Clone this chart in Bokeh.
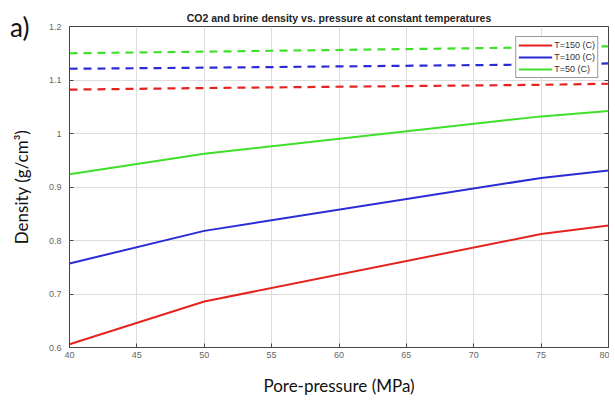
from bokeh.plotting import figure
from bokeh.models import Range1d, Legend, LegendItem, FixedTicker, LinearAxis
from bokeh.embed import file_html
from bokeh.resources import INLINE

# Data
pressure = [40, 50, 75, 80]
co2_150 = [0.606, 0.686, 0.812, 0.828]
co2_100 = [0.757, 0.818, 0.917, 0.931]
co2_50 = [0.924, 0.962, 1.032, 1.042]
brine_150 = [1.082, 1.085, 1.091, 1.093]
brine_100 = [1.121, 1.123, 1.129, 1.131]
brine_50 = [1.150, 1.153, 1.161, 1.163]
x_ticks = [40, 45, 50, 55, 60, 65, 70, 75, 80]
y_ticks = [0.6, 0.7, 0.8, 0.9, 1.0, 1.1, 1.2]
labels = ["T=150 (C)", "T=100 (C)", "T=50 (C)"]
panel_tag = "a)"

RED = "#e52421"
BLUE = "#2b2bd6"
GREEN = "#3fe02a"

p = figure(width=609, height=398, output_backend="svg", toolbar_location=None,
           x_range=Range1d(40, 80), y_range=Range1d(0.6, 1.2),
           min_border_left=69, min_border_right=1, min_border_top=26, min_border_bottom=50,
           title="CO2 and brine density vs. pressure at constant temperatures")
p.title.align = "center"
p.title.text_font = "Liberation Sans"
p.title.text_font_size = "10.5px"
p.title.text_font_style = "bold"
p.title.text_color = "#222222"
p.title.standoff = 6

p.outline_line_color = "#444444"
p.outline_line_width = 1
p.background_fill_color = "white"
p.border_fill_color = "white"

for ax in (p.xaxis[0], p.yaxis[0]):
    ax.major_tick_in = 4
    ax.major_tick_out = 0
    ax.minor_tick_in = 0
    ax.minor_tick_out = 0
    ax.axis_line_color = None
    ax.major_tick_line_color = "#444444"
    ax.major_label_text_font = "Liberation Sans"
    ax.major_label_text_font_size = "9px"
    ax.major_label_text_color = "#666666"
    ax.axis_label_text_font = "Lato"
    ax.axis_label_text_font_size = "17px"
    ax.axis_label_text_font_style = "normal"
    ax.axis_label_text_color = "#111111"

p.xaxis.ticker = FixedTicker(ticks=x_ticks)
p.yaxis.ticker = FixedTicker(ticks=y_ticks)
p.yaxis.major_label_overrides = {1.0: "1"}
p.xaxis.axis_label = "Pore-pressure (MPa)"
p.yaxis.axis_label = "Density (g/cm\u00b3)"
p.xaxis.major_label_standoff = 4
p.yaxis.major_label_standoff = 8
p.xaxis.axis_label_standoff = 14
p.yaxis.axis_label_standoff = 14

# panel tag "a)" drawn as the single tick label of an extra left axis
tag_axis = LinearAxis(ticker=FixedTicker(ticks=[y_ticks[-1]]),
                      major_label_overrides={y_ticks[-1]: panel_tag})
tag_axis.major_tick_in = 0
tag_axis.major_tick_out = 0
tag_axis.minor_tick_in = 0
tag_axis.minor_tick_out = 0
tag_axis.axis_line_color = None
tag_axis.major_label_standoff = -22
tag_axis.major_label_text_font = "Lato"
tag_axis.major_label_text_font_size = "26px"
tag_axis.major_label_text_color = "#111111"
p.add_layout(tag_axis, "left")

# inward ticks on the right edge (box style)
right_axis = LinearAxis(ticker=FixedTicker(ticks=y_ticks),
                        major_label_overrides={t: "" for t in y_ticks})
right_axis.major_tick_in = 4
right_axis.major_tick_out = 0
right_axis.minor_tick_in = 0
right_axis.minor_tick_out = 0
right_axis.axis_line_color = None
right_axis.major_tick_line_color = "#444444"
right_axis.major_label_standoff = 0
right_axis.major_label_text_font_size = "1px"
p.add_layout(right_axis, "right")

p.xgrid.ticker = FixedTicker(ticks=x_ticks)
p.ygrid.ticker = FixedTicker(ticks=y_ticks)
p.grid.grid_line_color = "#dddddd"
p.grid.grid_line_width = 1

r1 = p.line(pressure, co2_150, line_color=RED, line_width=2)
r2 = p.line(pressure, co2_100, line_color=BLUE, line_width=2)
r3 = p.line(pressure, co2_50, line_color=GREEN, line_width=2)
p.line(pressure, brine_150, line_color=RED, line_width=2.2, line_dash="8 6")
p.line(pressure, brine_100, line_color=BLUE, line_width=2.2, line_dash="8 6")
p.line(pressure, brine_50, line_color=GREEN, line_width=2.2, line_dash="8 6")

legend = Legend(items=[LegendItem(label=labels[0], renderers=[r1]),
                       LegendItem(label=labels[1], renderers=[r2]),
                       LegendItem(label=labels[2], renderers=[r3])],
                location="top_right")
legend.margin = 10
legend.padding = 2
legend.spacing = 0
legend.glyph_width = 34
legend.glyph_height = 12
legend.label_height = 12
legend.label_standoff = 2
legend.label_text_font = "Liberation Sans"
legend.label_text_font_size = "9px"
legend.label_text_color = "#333333"
legend.border_line_color = "#333333"
legend.border_line_width = 1
legend.background_fill_alpha = 1
p.add_layout(legend)

open("out.html", "w").write(file_html(p, INLINE))
